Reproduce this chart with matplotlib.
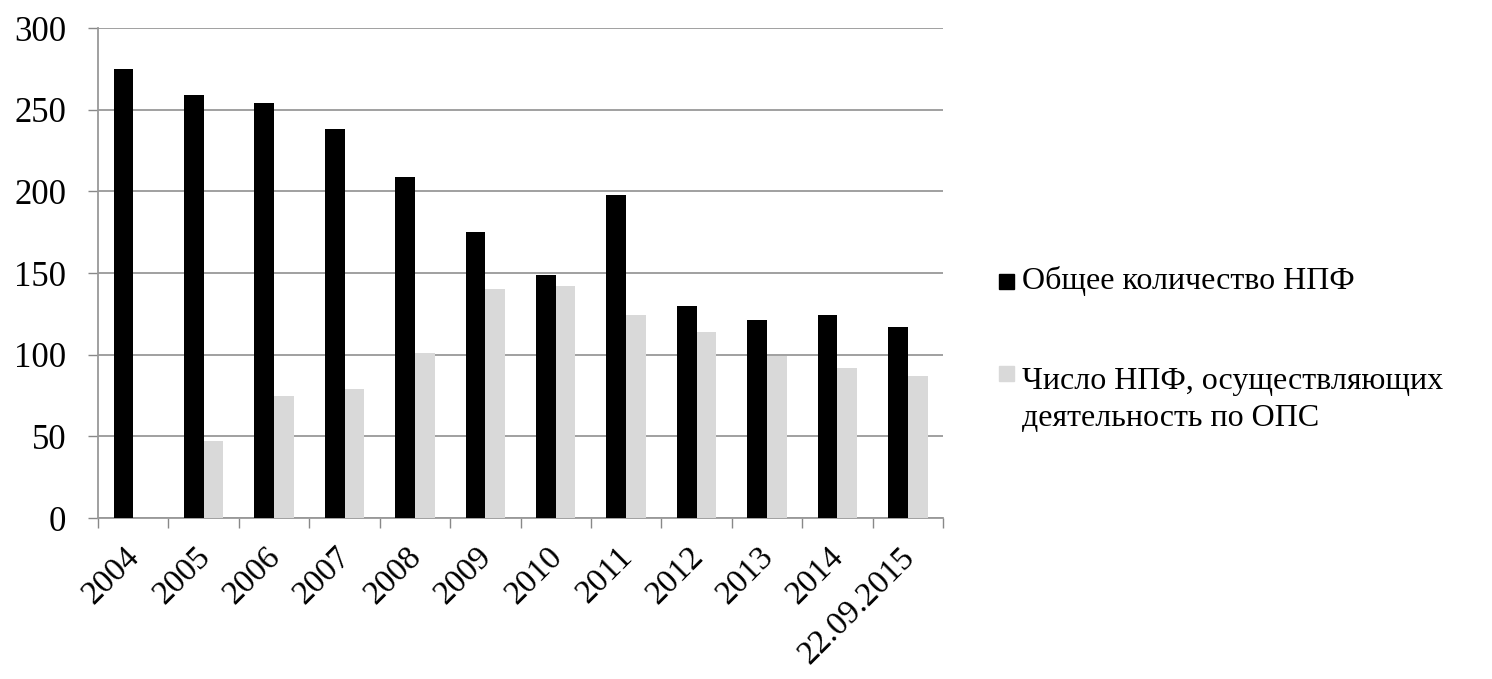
import matplotlib
matplotlib.use('Agg')
import matplotlib.pyplot as plt
import matplotlib.transforms as mtransforms
from matplotlib.patches import Rectangle
import numpy as np

plt.rcParams['font.family'] = ['Liberation Serif', 'DejaVu Serif']

# data
years = ['2004', '2005', '2006', '2007', '2008', '2009', '2010',
         '2011', '2012', '2013', '2014', '22.09.2015']
total_npf = [275, 259, 254, 238, 209, 175, 149, 198, 130, 121, 124, 117]
ops_npf = [0, 47, 75, 79, 101, 140, 142, 124, 114, 99, 92, 87]

label_total = 'Общее количество НПФ'
label_ops = 'Число НПФ, осуществляющих\nдеятельность по ОПС'
c_total = '#000000'
c_ops = '#d9d9d9'

fig = plt.figure(figsize=(14.92, 6.79), dpi=100)
ax = fig.add_axes([0.0657, 0.2371, 0.5664, 0.7216])

x = np.arange(len(years))
w = 0.28
ax.bar(x - w / 2, total_npf, width=w, color=c_total, zorder=3)
ax.bar(x + w / 2, ops_npf, width=w, color=c_ops, zorder=3)

ax.set_xlim(-0.5, len(years) - 0.5)
ax.set_ylim(0, 300)
ax.set_yticks(np.arange(0, 301, 50))
ax.tick_params(axis='y', labelsize=25, length=7, width=1, color='#888888', pad=16)
ax.yaxis.grid(True, color='#999999', linewidth=1.3, zorder=0)

# category ticks sit between the groups, labels at centres
ax.set_xticks(np.arange(-0.5, len(years), 1.0))
ax.set_xticklabels([])
ax.set_xticks(x, minor=True)
ax.set_xticklabels(years, minor=True, rotation=45, ha='right',
                   rotation_mode='anchor', fontsize=24)
ax.tick_params(axis='x', which='major', length=7, width=1, color='#888888')
ax.tick_params(axis='x', which='minor', length=0, pad=17)
shift = mtransforms.ScaledTranslation(-0.09, 0, fig.dpi_scale_trans)
for lab in ax.get_xticklabels(minor=True):
    lab.set_transform(lab.get_transform() + shift)

for s in ['top', 'right']:
    ax.spines[s].set_visible(False)
for s in ['left', 'bottom']:
    ax.spines[s].set_color('#999999')
    ax.spines[s].set_linewidth(1.3)

# legend drawn by hand so the grey square lines up with the first text line
W, H = 1492.0, 679.0
sq = 15
fig.patches.append(Rectangle((999 / W, 1 - 289 / H), sq / W, sq / H,
                             transform=fig.transFigure, color=c_total))
fig.text(1022 / W, 1 - 281 / H, label_total, fontsize=23, va='center')
fig.patches.append(Rectangle((999 / W, 1 - 381 / H), sq / W, sq / H,
                             transform=fig.transFigure, color=c_ops))
fig.text(1022 / W, 1 - 400 / H, label_ops, fontsize=23, va='center',
         linespacing=1.4)

fig.savefig('out.png', dpi=100, facecolor='white')
